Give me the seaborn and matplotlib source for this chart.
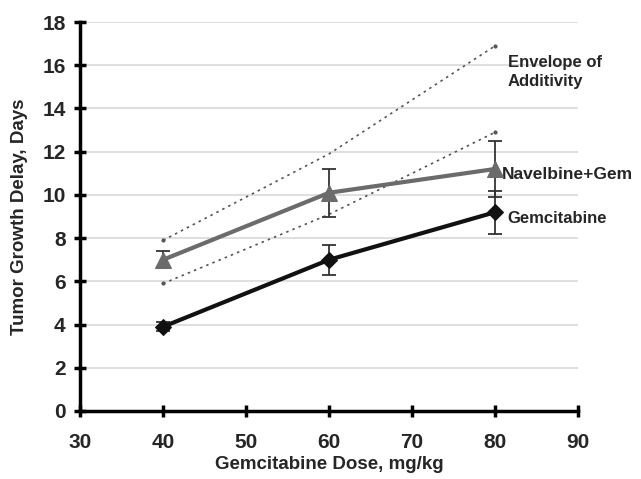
import seaborn as sns
import matplotlib.pyplot as plt
import pandas as pd

# Values
dose = [40, 60, 80]
gem_mean = [3.9, 7.0, 9.2]
gem_err = [0.2, 0.7, 1.0]
combo_mean = [7.0, 10.1, 11.2]
combo_err = [0.4, 1.1, 1.3]
env_upper = [7.9, 11.9, 16.9]
env_lower = [5.9, 9.1, 12.9]

sns.set_theme(style="white")
plt.rcParams["font.family"] = ["Liberation Sans", "DejaVu Sans"]
plt.rcParams["font.weight"] = "bold"

fig = plt.figure(figsize=(6.41, 4.79), dpi=100)
ax = fig.add_axes([0.125, 0.142, 0.777, 0.812])

# light horizontal grid
for y in range(2, 19, 2):
    ax.axhline(y, color="#d9d9d9", lw=1.2, zorder=0)

# envelope of additivity (dotted)
env = pd.DataFrame({"dose": dose * 2, "value": env_upper + env_lower,
                    "edge": ["upper"] * 3 + ["lower"] * 3})
for edge in ["upper", "lower"]:
    sub = env[env["edge"] == edge]
    sns.lineplot(data=sub, x="dose", y="value", ax=ax, color="#555555",
                 lw=1.2, linestyle=(0, (1.5, 2.5)), zorder=2)
    ax.plot(sub["dose"].iloc[[0, -1]], sub["value"].iloc[[0, -1]], ls="none",
            marker="o", ms=2, color="#555555", zorder=2)

df = pd.DataFrame({"dose": dose * 2, "delay": combo_mean + gem_mean,
                   "err": combo_err + gem_err,
                   "group": ["Navelbine+Gem"] * 3 + ["Gemcitabine"] * 3})
styles = {"Navelbine+Gem": ("#6b6b6b", "^", 11), "Gemcitabine": ("#111111", "D", 8)}
for name, (color, marker, ms) in styles.items():
    sub = df[df["group"] == name]
    ax.errorbar(sub["dose"], sub["delay"], yerr=sub["err"], fmt="none",
                ecolor="#333333", elinewidth=1.3, capsize=5, capthick=1.3, zorder=3)
    sns.lineplot(data=sub, x="dose", y="delay", ax=ax, color=color, lw=3,
                 marker=marker, markersize=ms, markeredgecolor=color, zorder=4)

ax.set_xlim(30, 90)
ax.set_ylim(0, 18)
ax.set_xticks(range(30, 91, 10))
ax.set_yticks(range(0, 19, 2))
ax.set_xlabel("Gemcitabine Dose, mg/kg", fontsize=13.5, fontweight="bold", labelpad=3)
ax.set_ylabel("Tumor Growth Delay, Days", fontsize=13.5, fontweight="bold", labelpad=10)
ax.tick_params(axis="both", labelsize=15, direction="inout", length=9, width=2.5,
               color="black", pad=6, left=True, bottom=True)
ax.tick_params(axis="x", pad=11)
for lab in ax.get_xticklabels() + ax.get_yticklabels():
    lab.set_fontweight("bold")
for side in ["top", "right"]:
    ax.spines[side].set_visible(False)
for side in ["left", "bottom"]:
    ax.spines[side].set_color("black")
    ax.spines[side].set_linewidth(2.5)

ax.text(81.5, 15.7, "Envelope of\nAdditivity", fontsize=12, fontweight="bold",
        va="center", ha="left", linespacing=1.3)
ax.text(80.8, 10.95, "Navelbine+Gem", fontsize=12.5, fontweight="bold", va="center", ha="left")
ax.text(81.5, 8.9, "Gemcitabine", fontsize=12, fontweight="bold", va="center", ha="left")

fig.savefig("out.png", dpi=100)
